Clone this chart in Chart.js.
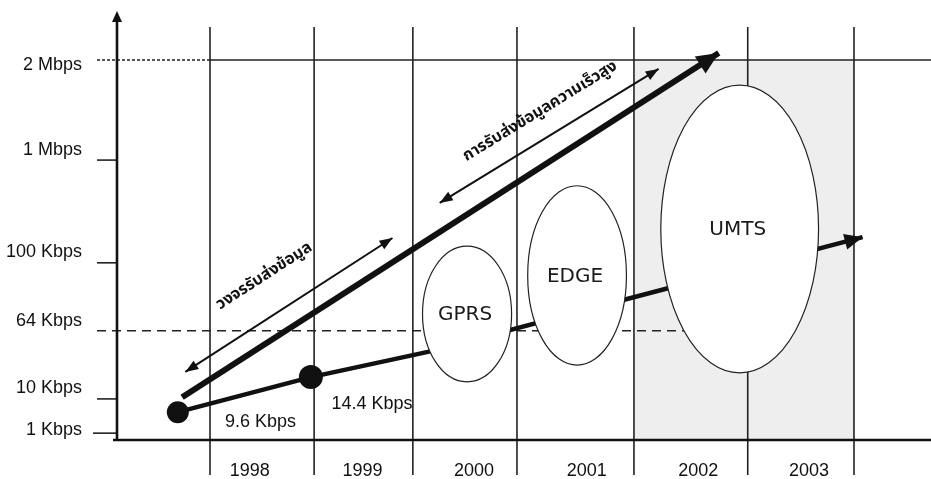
<!DOCTYPE html>
<html>
<head>
<meta charset="utf-8">
<script src="https://cdn.jsdelivr.net/npm/chart.js@4.4.1/dist/chart.umd.min.js"></script>
<style>
  html, body { margin: 0; padding: 0; background: #fff; overflow: hidden; }
  canvas { display: block; }
</style>
</head>
<body>
<canvas id="chart" width="931" height="479"></canvas>
<script>
// Year columns (edges, in years) and their labels
const yearEdges = [1998, 1998.97, 1999.89, 2000.86, 2001.95, 2003.01, 2004];
const yearLabels = ["1998", "1999", "2000", "2001", "2002", "2003"];
const yearLabelX = [1998.37, 1999.42, 2000.46, 2001.51, 2002.55, 2003.58];

// Data rate levels on the vertical axis
const rateLabels = ["1 Kbps", "10 Kbps", "64 Kbps", "100 Kbps", "1 Mbps", "2 Mbps"];
const rateLevels = [0.16, 0.96, 2.55, 4.14, 6.54, 8.88];

// Evolution path: 9.6 Kbps -> 14.4 Kbps -> GPRS -> EDGE -> UMTS
const pathX = [1997.70, 1998.94, 2000.03, 2001.85, 2004.08];
const pathY = [0.65, 1.47, 2.06, 3.27, 4.74];
const pathNames = ["9.6 Kbps", "14.4 Kbps"];
const pathNameX = [1998.47, 1999.51];
const pathNameY = [0.42, 0.84];

// Technologies (span of years and of rate levels)
const techNames = ["GPRS", "EDGE", "UMTS"];
const techStart = [1999.98, 2000.96, 2002.20];
const techEnd = [2000.81, 2001.88, 2003.67];
const techLow = [1.36, 1.75, 1.57];
const techHigh = [4.53, 5.94, 8.29];

// Trend arrows
const trendX = [1997.74, 2002.74];
const trendY = [1.00, 9.04];
const circuitX = [1997.77, 1999.70];
const circuitY = [1.59, 4.72];
const circuitText = "วงจรรับส่งข้อมูล";
const circuitTextAt = [1998.51, 3.81];
const packetX = [2000.14, 2002.18];
const packetY = [5.54, 8.67];
const packetText = "การรับส่งข้อมูลความเร็วสูง";
const packetTextAt = [2001.08, 7.66];

const pts = (xs, ys) => xs.map((x, i) => ({ x: x, y: ys[i] }));
const INK = "#111";

function arrowHead(ctx, from, to, len, half) {
    const a = Math.atan2(to.y - from.y, to.x - from.x);
    ctx.beginPath();
    ctx.moveTo(to.x, to.y);
    ctx.lineTo(to.x - len * Math.cos(a) + half * Math.sin(a), to.y - len * Math.sin(a) - half * Math.cos(a));
    ctx.lineTo(to.x - len * Math.cos(a) - half * Math.sin(a), to.y - len * Math.sin(a) + half * Math.cos(a));
    ctx.closePath();
    ctx.fill();
}

const diagram = {
    id: "diagram",
    beforeDatasetsDraw(chart) {
        const { ctx, chartArea } = chart;
        const sx = chart.scales.x, sy = chart.scales.y;
        const X = v => sx.getPixelForValue(v), Y = v => sy.getPixelForValue(v);
        const axisX = chartArea.left, axisY = chartArea.bottom;
        ctx.save();

        // shaded UMTS era
        ctx.fillStyle = "#eeeeee";
        ctx.fillRect(X(yearEdges[4]), Y(rateLevels[5]), X(yearEdges[6]) - X(yearEdges[4]), axisY - Y(rateLevels[5]));

        // year column lines
        ctx.strokeStyle = "#222";
        ctx.lineWidth = 1.6;
        yearEdges.forEach(e => {
            ctx.beginPath();
            ctx.moveTo(X(e), Y(9.65));
            ctx.lineTo(X(e), axisY + 35);
            ctx.stroke();
        });

        // 2 Mbps line: dotted up to the first column, solid after
        ctx.lineWidth = 1.4;
        ctx.setLineDash([3, 2]);
        ctx.beginPath();
        ctx.moveTo(axisX - 20, Y(rateLevels[5]));
        ctx.lineTo(X(yearEdges[0]), Y(rateLevels[5]));
        ctx.stroke();
        ctx.setLineDash([]);
        ctx.beginPath();
        ctx.moveTo(X(yearEdges[0]), Y(rateLevels[5]));
        ctx.lineTo(chartArea.right, Y(rateLevels[5]));
        ctx.stroke();

        // 64 Kbps dashed line
        ctx.setLineDash([9, 6]);
        ctx.lineWidth = 1.5;
        ctx.beginPath();
        ctx.moveTo(axisX - 20, Y(rateLevels[2]));
        ctx.lineTo(X(2002.5), Y(rateLevels[2]));
        ctx.stroke();
        ctx.setLineDash([]);

        // tick marks
        ctx.lineWidth = 1.6;
        [0, 1, 3, 4].forEach(i => {
            ctx.beginPath();
            ctx.moveTo(axisX - (i === 0 ? 24 : 20), Y(rateLevels[i]));
            ctx.lineTo(axisX, Y(rateLevels[i]));
            ctx.stroke();
        });

        // axes
        ctx.strokeStyle = INK;
        ctx.lineWidth = 2.6;
        ctx.beginPath();
        ctx.moveTo(axisX, axisY + 1);
        ctx.lineTo(axisX, chartArea.top + 8);
        ctx.moveTo(axisX - 4, axisY);
        ctx.lineTo(chartArea.right, axisY);
        ctx.stroke();
        ctx.fillStyle = INK;
        arrowHead(ctx, { x: axisX, y: axisY }, { x: axisX, y: chartArea.top - 1 }, 11, 5);

        // axis labels
        ctx.font = "18px 'Liberation Sans', Arial, sans-serif";
        ctx.textBaseline = "middle";
        ctx.textAlign = "right";
        const nudge = [-3, -11, -10, -11, -10, 5];
        rateLabels.forEach((t, i) => ctx.fillText(t, 82, Y(rateLevels[i]) + nudge[i]));
        ctx.textAlign = "center";
        yearLabels.forEach((t, i) => ctx.fillText(t, X(yearLabelX[i]), axisY + 31));
        ctx.restore();
    },
    afterDatasetsDraw(chart) {
        const { ctx } = chart;
        const sx = chart.scales.x, sy = chart.scales.y;
        const X = v => sx.getPixelForValue(v), Y = v => sy.getPixelForValue(v);
        ctx.save();

        // technology ellipses
        techNames.forEach((name, i) => {
            const cx = (X(techStart[i]) + X(techEnd[i])) / 2;
            const cy = (Y(techLow[i]) + Y(techHigh[i])) / 2;
            const rx = (X(techEnd[i]) - X(techStart[i])) / 2;
            const ry = (Y(techLow[i]) - Y(techHigh[i])) / 2;
            ctx.beginPath();
            ctx.ellipse(cx, cy, rx, ry, 0, 0, Math.PI * 2);
            ctx.fillStyle = "#fff";
            ctx.fill();
            ctx.strokeStyle = "#222";
            ctx.lineWidth = 1.2;
            ctx.stroke();
            ctx.fillStyle = "#1a1a1a";
            ctx.font = "20px 'DejaVu Sans', Verdana, sans-serif";
            ctx.textAlign = "center";
            ctx.textBaseline = "middle";
            ctx.fillText(name, cx - 2, cy + 1);
        });

        // arrow heads
        ctx.fillStyle = INK;
        const metaPts = i => chart.getDatasetMeta(i).data;
        const p = metaPts(0);
        arrowHead(ctx, p[p.length - 2], p[p.length - 1], 18, 8);
        const t = metaPts(1);
        arrowHead(ctx, t[0], t[1], 22, 10);
        [2, 3].forEach(i => {
            const d = metaPts(i);
            arrowHead(ctx, d[0], d[1], 13, 5);
            arrowHead(ctx, d[1], d[0], 13, 5);
        });

        // rate labels on the path
        ctx.font = "18px 'Liberation Sans', Arial, sans-serif";
        ctx.textAlign = "center";
        ctx.textBaseline = "middle";
        pathNames.forEach((n, i) => ctx.fillText(n, X(pathNameX[i]), Y(pathNameY[i])));

        // Thai captions along the thin arrows
        const caption = (text, at, xs, ys) => {
            const ang = Math.atan2(Y(ys[1]) - Y(ys[0]), X(xs[1]) - X(xs[0]));
            ctx.save();
            ctx.translate(X(at[0]), Y(at[1]));
            ctx.rotate(ang);
            ctx.font = "bold 16px 'Noto Sans Thai', 'Noto Serif Thai', 'Noto Sans', sans-serif";
            ctx.fillText(text, 0, 0);
            ctx.restore();
        };
        caption(circuitText, circuitTextAt, circuitX, circuitY);
        caption(packetText, packetTextAt, packetX, packetY);
        ctx.restore();
    }
};

const ctx = document.getElementById("chart").getContext("2d");
new Chart(ctx, {
    type: "scatter",
    data: {
        datasets: [
            {
                label: "Data rate path",
                data: pts(pathX, pathY),
                showLine: true,
                borderColor: INK,
                borderWidth: 4.5,
                pointRadius: [11, 12, 0, 0, 0],
                pointBackgroundColor: INK,
                pointBorderWidth: 0,
                clip: false
            },
            {
                label: "Trend",
                data: pts(trendX, trendY),
                showLine: true,
                borderColor: INK,
                borderWidth: 6,
                pointRadius: 0,
                clip: false
            },
            {
                label: "Circuit",
                data: pts(circuitX, circuitY),
                showLine: true,
                borderColor: INK,
                borderWidth: 2,
                pointRadius: 0,
                clip: false
            },
            {
                label: "Packet",
                data: pts(packetX, packetY),
                showLine: true,
                borderColor: INK,
                borderWidth: 2,
                pointRadius: 0,
                clip: false
            }
        ]
    },
    options: {
        responsive: false,
        animation: false,
        layout: { autoPadding: false, padding: { left: 117, right: 0, top: 12, bottom: 39 } },
        plugins: { legend: { display: false }, tooltip: { enabled: false } },
        scales: {
            x: { type: "linear", display: false, min: 1997.1335, max: 2004.7176 },
            y: { type: "linear", display: false, min: 0, max: 10 }
        }
    },
    plugins: [diagram]
});
</script>
</body>
</html>
